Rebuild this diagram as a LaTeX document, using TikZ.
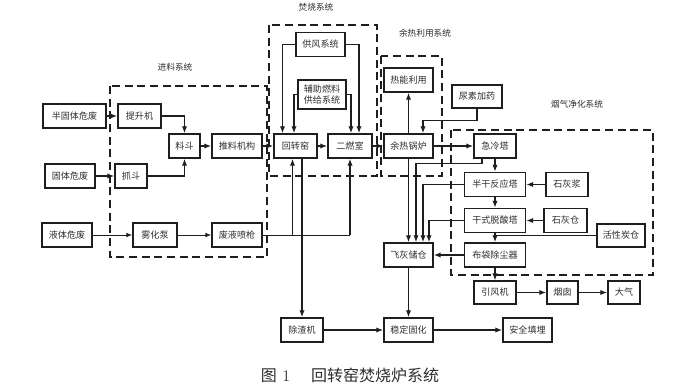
\documentclass[tikz,border=0pt]{standalone}
\usepackage{fontspec}
\usepackage{tikz}
\usepackage{xcolor}
\usetikzlibrary{arrows.meta,calc,positioning}
\newfontfamily\cjk{Noto Sans CJK SC}
\definecolor{KilnLine}{HTML}{1E1E1E}
\definecolor{KilnText}{HTML}{2E2E2E}
\tikzset{
  fsbox/.style={draw=KilnLine, fill=white, line width=1.3pt, minimum height=18pt, inner sep=1pt, align=center, text=KilnText, font=\cjk\fontsize{6.8}{8.2}\selectfont},
  fsw/.style={minimum width=#1*0.75pt},
  fsarrow/.style={-{Latex[length=1.8mm,width=1.4mm]}, line width=0.9pt, draw=KilnLine},
  fsthin/.style={-{Latex[length=1.5mm,width=1.2mm]}, line width=0.55pt, draw=KilnLine},
  fsline/.style={line width=0.9pt, draw=KilnLine},
  fsgroup/.style={draw=KilnLine, line width=1.2pt, dash pattern=on 6pt off 3.5pt},
  fslabel/.style={text=KilnText, font=\cjk\fontsize{6.5}{8}\selectfont}
}
\begin{document}
\begin{tikzpicture}[x=0.75pt,y=-0.75pt]
  \fill[white] (0,0) rectangle (677,388);
  \useasboundingbox (0,0) rectangle (677,388);
  \draw[fsgroup] (110,86) rectangle (267,257);
  \draw[fsgroup] (269,25) rectangle (377,176);
  \draw[fsgroup] (381,56) rectangle (442,176);
  \draw[fsgroup] (451,130) rectangle (653,275);
  \node[fslabel] (lbfeed) at (175,67) {进料系统};
  \node[fslabel] (lbburn) at (316,7) {焚烧系统};
  \node[fslabel] (lbheat) at (425,33) {余热利用系统};
  \node[fslabel] (lbgas) at (577,104) {烟气净化系统};
  \node[fsbox, fsw=63] (hsw) at (74.5,116) {半固体危废};
  \node[fsbox, fsw=43] (tsj) at (139.5,116) {提升机};
  \node[fsbox, fsw=50] (gtw) at (70,176) {固体危废};
  \node[fsbox, fsw=32] (zd) at (131,176) {抓斗};
  \node[fsbox, fsw=31] (ld) at (184.5,146) {料斗};
  \node[fsbox, fsw=50] (tljg) at (237,146) {推料机构};
  \node[fsbox, fsw=50] (ytw) at (67,235) {液体危废};
  \node[fsbox, fsw=44] (whb) at (155,235) {雾化泵};
  \node[fsbox, fsw=50] (fypq) at (237,235) {废液喷枪};
  \node[fsbox, fsw=49] (gf) at (320.5,44.5) {供风系统};
  \node[fsbox, fsw=48, minimum height=22pt] (fzrl) at (322,94.5) {辅助燃料\\供给系统};
  \node[fsbox, fsw=43] (hzy) at (295.5,146) {回转窑};
  \node[fsbox, fsw=44] (erc) at (350,146) {二燃室};
  \node[fsbox, fsw=42] (czj) at (302,330) {除渣机};
  \node[fsbox, fsw=49] (rnly) at (408.5,80) {热能利用};
  \node[fsbox, fsw=49] (yrgl) at (408.5,146) {余热锅炉};
  \node[fsbox, fsw=50, minimum height=17pt] (nsjy) at (477,96.5) {尿素加药};
  \node[fsbox, fsw=42] (jlt) at (495,146) {急冷塔};
  \node[fsbox, fsw=61] (bgfy) at (495,184.5) {半干反应塔};
  \node[fsbox, fsw=42] (shj) at (567,184.5) {石灰浆};
  \node[fsbox, fsw=61] (gsts) at (495,220.5) {干式脱酸塔};
  \node[fsbox, fsw=43] (shc) at (565.5,220.5) {石灰仓};
  \node[fsbox, fsw=48, minimum height=17pt] (hxtc) at (621,235.5) {活性炭仓};
  \node[fsbox, fsw=61] (bdcc) at (495,255) {布袋除尘器};
  \node[fsbox, fsw=49] (fhcc) at (408.5,255) {飞灰储仓};
  \node[fsbox, fsw=42, minimum height=17pt] (yfj) at (495,292.5) {引风机};
  \node[fsbox, fsw=31, minimum height=17pt] (yc) at (562.5,292.5) {烟囱};
  \node[fsbox, fsw=32, minimum height=17pt] (dq) at (624,292.5) {大气};
  \node[fsbox, fsw=49] (wdgh) at (408.5,330) {稳定固化};
  \node[fsbox, fsw=49] (aqtm) at (527.5,330) {安全填埋};
  \node[font=\fontsize{12}{14}\selectfont, text=KilnText] (caption) at (350,375) {{\cjk 图}\hspace{0.35em}1\hspace{1.3em}{\cjk 回转窑焚烧炉系统}};
  \coordinate (hzyair) at ($(hzy.north)+(-13,0)$);
  \coordinate (hzyfuel) at ($(hzy.north)+(-1.5,0)$);
  \coordinate (ercair) at ($(erc.north)+(9,0)$);
  \coordinate (ercfuel) at ($(erc.north)+(1,0)$);
  \coordinate (hzyin) at ($(hzy.south)+(-3,0)$);
  \coordinate (yrglurea) at ($(yrgl.north)+(14.5,0)$);
  \coordinate (jltash) at ($(jlt.south)+(-13,0)$);
  \coordinate (fhccq) at ($(fhcc.north)+(7.5,0)$);
  \coordinate (fhccb) at ($(fhcc.north)+(14.5,0)$);
  \coordinate (fhccg) at ($(fhcc.north)+(20.5,0)$);
  \draw[fsarrow] (hsw) -- (tsj);
  \draw[fsarrow] (tsj.east) -| (ld.north);
  \draw[fsarrow] (gtw) -- (zd);
  \draw[fsarrow] (zd.east) -| (ld.south);
  \draw[fsarrow] (ld) -- (tljg);
  \draw[fsarrow] (tljg) -- (hzy);
  \draw[fsthin] (ytw) -- (whb);
  \draw[fsthin] (whb) -- (fypq);
  \draw[fsline, line width=0.6pt] (fypq.east) -- (fypq.east -| erc.south);
  \draw[fsarrow] (fypq.east -| erc.south) -- (erc.south);
  \draw[fsarrow] (fypq.east -| hzyin) -- (hzyin);
  \draw[fsarrow] (gf.west) -| (hzyair);
  \draw[fsarrow] (fzrl.west) -| (hzyfuel);
  \draw[fsarrow] (gf.east) -| (ercair);
  \draw[fsarrow] (fzrl.east) -| (ercfuel);
  \draw[fsarrow] (hzy) -- (erc);
  \draw[fsarrow] (hzy.south -| czj.north) -- (czj.north);
  \draw[fsarrow] (czj) -- (wdgh);
  \draw[fsarrow] (erc) -- (yrgl);
  \draw[fsarrow] (yrgl) -- (rnly);
  \draw[fsarrow] (nsjy.south) -- ++(0,12) -| (yrglurea);
  \draw[fsarrow] (yrgl) -- (jlt);
  \draw[fsarrow] (yrgl) -- (fhcc);
  \draw[fsarrow] (jltash) -- ++(0,5) -| (fhccq);
  \draw[fsarrow] (bgfy.west) -| (fhccb);
  \draw[fsarrow] (gsts.west) -| (fhccg);
  \draw[fsarrow] (jlt) -- (bgfy);
  \draw[fsarrow] (shj) -- (bgfy);
  \draw[fsarrow] (bgfy) -- (gsts);
  \draw[fsarrow] (shc) -- (gsts);
  \draw[fsarrow] (gsts) -- (bdcc);
  \draw[fsline] (hxtc.west) -- (hxtc.west -| bdcc.north);
  \draw[fsarrow] (bdcc) -- (fhcc);
  \draw[fsarrow] (bdcc) -- (yfj);
  \draw[fsarrow] (yfj) -- (yc);
  \draw[fsarrow] (yc) -- (dq);
  \draw[fsarrow] (fhcc) -- (wdgh);
  \draw[fsarrow] (wdgh) -- (aqtm);
\end{tikzpicture}
\end{document}
